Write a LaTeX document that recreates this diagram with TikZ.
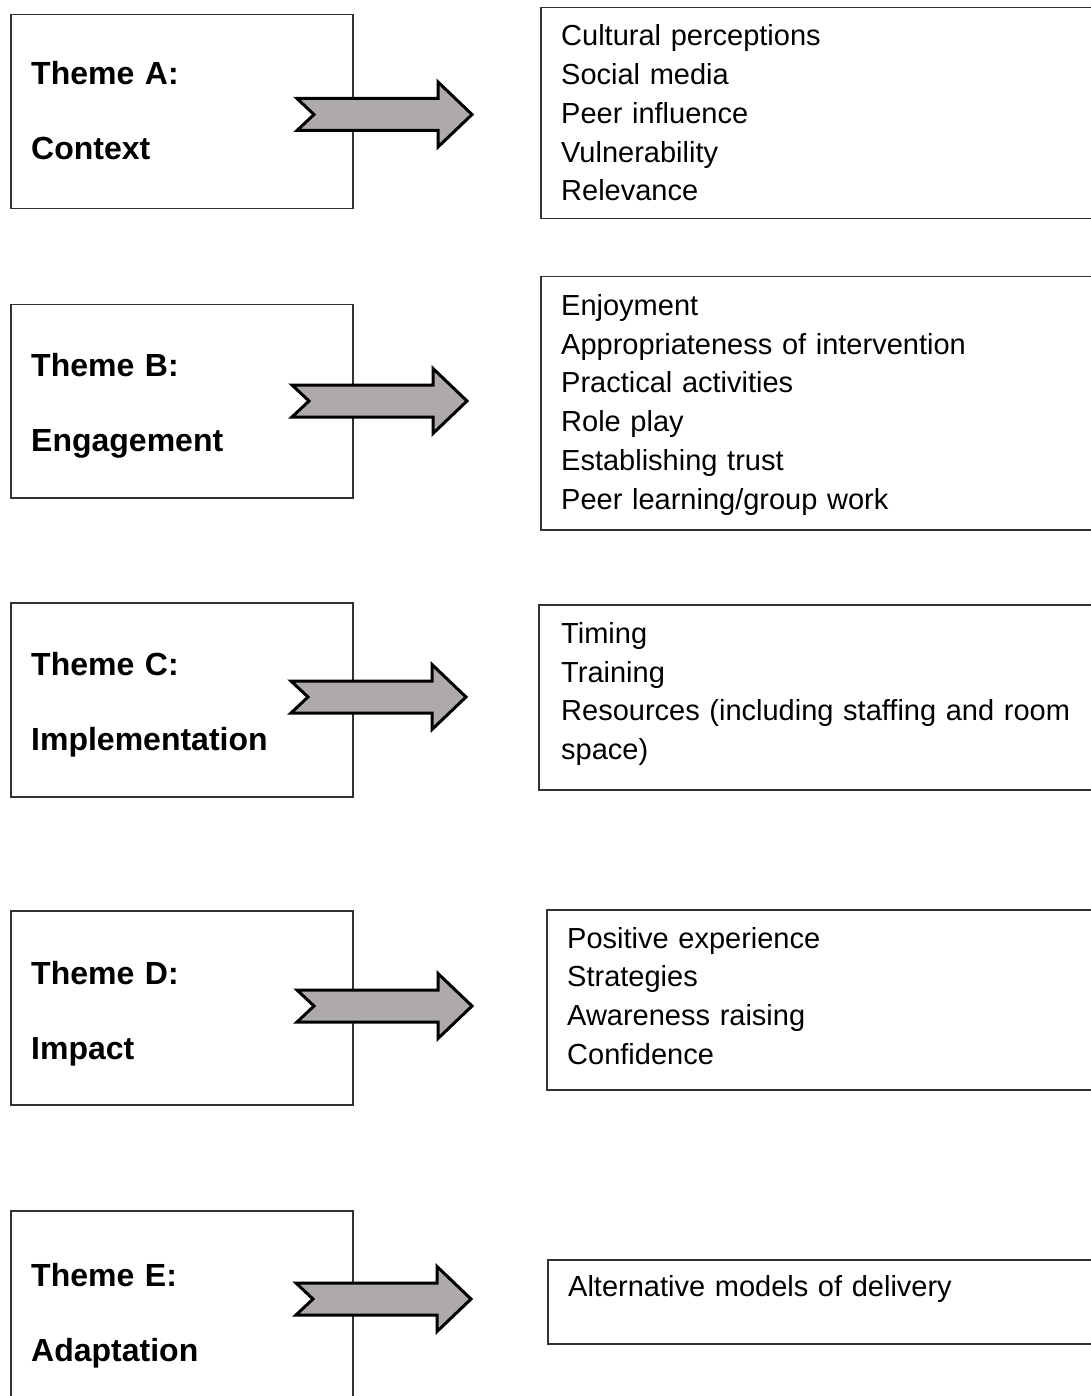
\documentclass[tikz,border=0pt]{standalone}
\usepackage{fontspec}
\setmainfont{Liberation Sans}
\definecolor{arrowgray}{RGB}{174,170,169}
\definecolor{boxline}{RGB}{50,50,50}
\tikzset{
  themebox/.style={draw=boxline, line width=1.5pt, rectangle, anchor=north west, inner sep=0pt},
  themetext/.style={anchor=base west, inner sep=0pt, align=left, text width=310pt,
    font=\fontsize{32}{75}\selectfont\bfseries},
  listtext/.style={anchor=base west, inner sep=0pt, align=left, text width=525pt,
    font=\fontsize{29}{38.7}\selectfont},
  blockarrow/.pic={\draw[fill=arrowgray, line width=3pt, line join=miter]
    (0,-16) -- (141,-16) -- (141,-32.5) -- (175,0) -- (141,32.5) -- (141,16) -- (0,16) -- (17,0) -- cycle;}
}
\begin{document}
\begin{tikzpicture}[x=1pt,y=-1pt]
\useasboundingbox (0,0) rectangle (1091,1396);
% left theme boxes
\node[themebox, minimum width=342pt, minimum height=194pt] (lA) at (10,14) {};
\node[themebox, minimum width=342pt, minimum height=193pt] (lB) at (10,304) {};
\node[themebox, minimum width=342pt, minimum height=194pt] (lC) at (10,602) {};
\node[themebox, minimum width=342pt, minimum height=194pt] (lD) at (10,910) {};
\node[themebox, minimum width=342pt, minimum height=210pt] (lE) at (10,1210) {};
% right boxes
\node[themebox, minimum width=570pt, minimum height=211pt] (rA) at (540,7) {};
\node[themebox, minimum width=570pt, minimum height=253pt] (rB) at (540,276) {};
\node[themebox, minimum width=570pt, minimum height=185pt] (rC) at (538,604) {};
\node[themebox, minimum width=570pt, minimum height=180pt] (rD) at (546,909) {};
\node[themebox, minimum width=570pt, minimum height=84pt] (rE) at (547,1259) {};
% theme texts
\node[themetext] (tA) at (31,85) {Theme A:\\Context};
\node[themetext] (tB) at (31,376) {Theme B:\\Engagement};
\node[themetext] (tC) at (31,675) {Theme C:\\Implementation};
\node[themetext] (tD) at (31,984) {Theme D:\\Impact};
\node[themetext] (tE) at (31,1286) {Theme E:\\Adaptation};
% list texts
\node[listtext] (xA) at (561,46) {Cultural perceptions\\Social media\\Peer influence\\Vulnerability\\Relevance};
\node[listtext] (xB) at (561,315.5) {Enjoyment\\Appropriateness of intervention\\Practical activities\\Role play\\Establishing trust\\Peer learning/group work};
\node[listtext] (xC) at (561,643.5) {Timing\\Training\\Resources (including staffing and room\\space)};
\node[listtext] (xD) at (567,948) {Positive experience\\Strategies\\Awareness raising\\Confidence};
\node[listtext] (xE) at (568,1296) {Alternative models of delivery};
% block arrows
\pic at (297,114.5) {blockarrow};
\pic at (292,401) {blockarrow};
\pic at (291,697) {blockarrow};
\pic at (297,1006) {blockarrow};
\pic at (296,1299) {blockarrow};
\end{tikzpicture}
\end{document}
